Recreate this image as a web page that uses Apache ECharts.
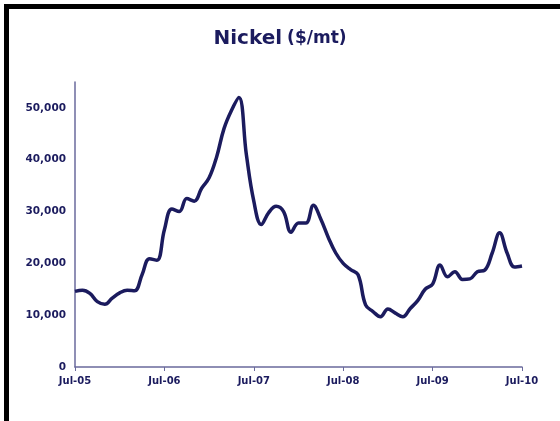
<!DOCTYPE html>
<html>
<head>
<meta charset="utf-8">
<script src="https://cdn.jsdelivr.net/npm/echarts@6/dist/echarts.min.js"></script>
<style>
html,body{margin:0;padding:0;background:#fff;}
#c{width:560px;height:421px;}
</style>
</head>
<body>
<div id="c"></div>
<script>
// Monthly categories Jul-05 .. Jul-10
const monthNames = ['Jan','Feb','Mar','Apr','May','Jun','Jul','Aug','Sep','Oct','Nov','Dec'];
const categories = [];
for (let i = 0; i <= 60; i++) {
  const m = (6 + i) % 12;
  const y = 5 + Math.floor((6 + i) / 12);
  categories.push(monthNames[m] + '-' + (y < 10 ? '0' + y : '' + y));
}
const nickelPrice = [
  14600, 14800, 14200, 12600, 12100, 13300, 14300, 14800, 14700, 17800, 20900, 20600,
  26500, 30500, 30000, 32500, 32000, 34500, 36500, 40500, 46000, 49500, 52000, 41000,
  32000, 27500, 29800, 31000, 30000, 26000, 27800, 27800, 31200, 28500, 25000, 22000,
  20000, 18800, 17800, 12000, 10700, 9700, 11200, 10400, 9700, 11300, 12800, 15000,
  16000, 19700, 17400, 18400, 16900, 17000, 18400, 18700, 22000, 25900, 22000, 19300,
  19500
];
const yTicks = [0, 10000, 20000, 30000, 40000, 50000];

const navy = '#1b1b5e';
const chart = echarts.init(document.getElementById('c'));
chart.setOption({
  animation: false,
  backgroundColor: '#fff',
  title: {
    text: '{a|Nickel} {b|($/mt)}',
    left: 'center',
    top: 24,
    textStyle: {
      rich: {
        a: {fontFamily: 'DejaVu Sans', fontWeight: 'bold', fontSize: 20, color: navy},
        b: {fontFamily: 'DejaVu Sans', fontWeight: 'bold', fontSize: 17, color: navy}
      }
    }
  },
  graphic: [
    {type: 'rect', shape: {x: 4, y: 4, width: 556, height: 5}, style: {fill: '#000'}},
    {type: 'rect', shape: {x: 4, y: 4, width: 5, height: 417}, style: {fill: '#000'}}
  ],
  grid: {left: 75, right: 38, top: 82, bottom: 54, containLabel: false},
  xAxis: {
    type: 'category',
    data: categories,
    boundaryGap: false,
    axisLine: {lineStyle: {color: '#6a6a9c', width: 1.5}},
    axisTick: {interval: 11, length: 4, lineStyle: {color: '#6a6a9c'}},
    axisLabel: {
      interval: 11,
      color: navy,
      fontFamily: 'DejaVu Sans',
      fontWeight: 'bold',
      fontSize: 10,
      margin: 9,
      formatter: v => v.startsWith('Jul') ? v : ''
    },
    splitLine: {show: false}
  },
  yAxis: {
    type: 'value',
    min: 0,
    max: 55000,
    interval: 10000,
    axisLine: {show: true, lineStyle: {color: '#6a6a9c', width: 1.5}},
    axisTick: {show: false},
    splitLine: {show: false},
    axisLabel: {
      color: navy,
      fontFamily: 'DejaVu Sans',
      fontWeight: 'bold',
      fontSize: 10.5,
      margin: 9,
      formatter: v => yTicks.includes(v) ? v.toLocaleString('en-US') : ''
    }
  },
  series: [{
    type: 'line',
    data: nickelPrice,
    smooth: 0.4,
    showSymbol: false,
    lineStyle: {color: navy, width: 3.5}
  }]
});
</script>
</body>
</html>
